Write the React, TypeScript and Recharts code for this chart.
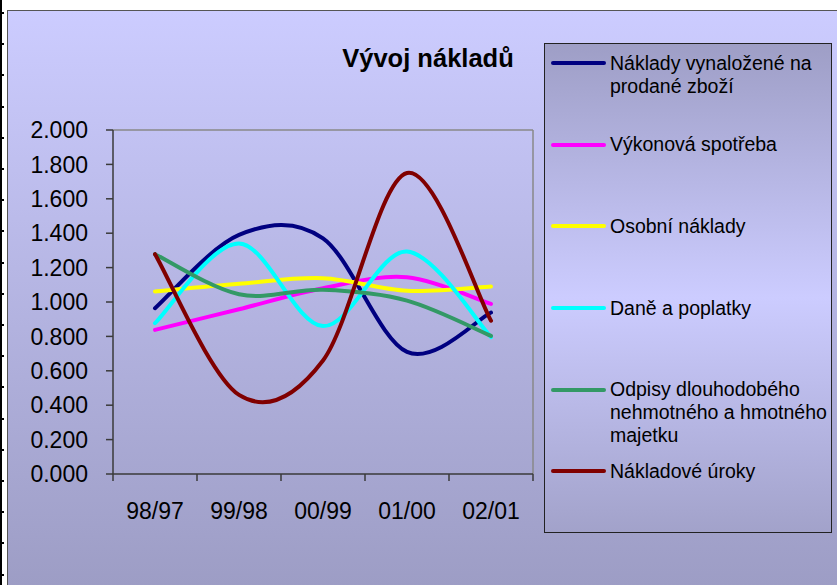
import React from 'react';
import { LineChart, Line, XAxis, YAxis, Legend, ReferenceLine } from 'recharts';

const categories = ['98/97', '99/98', '00/99', '01/00', '02/01'];
const nakladyZbozi = [0.964, 1.39, 1.37, 0.71, 0.939];
const vykonovaSpotreba = [0.838, 0.958, 1.08, 1.144, 0.989];
const osobniNaklady = [1.061, 1.106, 1.138, 1.065, 1.09];
const danePoplatky = [0.877, 1.34, 0.86, 1.293, 0.796];
const odpisy = [1.278, 1.045, 1.071, 1.008, 0.803];
const nakladoveUroky = [1.278, 0.46, 0.66, 1.75, 0.891];
const yTicks = [0, 0.2, 0.4, 0.6, 0.8, 1.0, 1.2, 1.4, 1.6, 1.8, 2.0];
const xBoundaries = [0, 1, 2, 3, 4, 5];

const seriesDefs = [
  { key: 'a', name: 'Náklady vynaložené na prodané zboží', values: nakladyZbozi, color: '#000080' },
  { key: 'b', name: 'Výkonová spotřeba', values: vykonovaSpotreba, color: '#FF00FF' },
  { key: 'c', name: 'Osobní náklady', values: osobniNaklady, color: '#FFFF00' },
  { key: 'd', name: 'Daně a poplatky', values: danePoplatky, color: '#00FFFF' },
  { key: 'e', name: 'Odpisy dlouhodobého nehmotného a hmotného majetku', values: odpisy, color: '#339966' },
  { key: 'f', name: 'Nákladové úroky', values: nakladoveUroky, color: '#800000' },
];

const data = categories.map((cat, i) => {
  const row: any = { cat, pos: i + 0.5 };
  seriesDefs.forEach((s) => {
    row[s.key] = s.values[i];
  });
  return row;
});

const FONT = '"Liberation Sans", Arial, sans-serif';

// Excel-like smoothed line (Catmull-Rom style Bezier)
const excelSmooth = (context: any) => {
  let pts: number[][] = [];
  return {
    areaStart() {},
    areaEnd() {},
    lineStart() {
      pts = [];
    },
    point(x: number, y: number) {
      pts.push([+x, +y]);
    },
    lineEnd() {
      const n = pts.length;
      if (!n) return;
      context.moveTo(pts[0][0], pts[0][1]);
      for (let i = 0; i < n - 1; i++) {
        const p0 = pts[i - 1] || pts[i];
        const p1 = pts[i];
        const p2 = pts[i + 1];
        const p3 = pts[i + 2] || p2;
        context.bezierCurveTo(
          p1[0] + (p2[0] - p0[0]) / 6,
          p1[1] + (p2[1] - p0[1]) / 6,
          p2[0] - (p3[0] - p1[0]) / 6,
          p2[1] - (p3[1] - p1[1]) / 6,
          p2[0],
          p2[1]
        );
      }
    },
  };
};

const CatTick = (props: any) => {
  const { x, y, payload, width, visibleTicksCount } = props;
  const idx = Math.round(payload.value);
  if (idx >= categories.length) return <g />;
  const half = width / (visibleTicksCount - 1) / 2;
  return (
    <text x={x + half} y={y} dy="0.71em" textAnchor="middle" fill="#000" fontSize={23} fontFamily={FONT}>
      {categories[idx]}
    </text>
  );
};

const renderLegend = (props: any) => {
  const payload = props.payload || [];
  const ordered = seriesDefs
    .map((s) => payload.find((p: any) => p.value === s.name || p.dataKey === s.key))
    .filter(Boolean);
  return (
    <div
      style={{
        width: 288,
        height: 490,
        boxSizing: 'border-box',
        border: '1px solid #222',
        background: 'linear-gradient(to bottom, #9e9ec6 0%, #ccccff 52%, #a2a2ca 100%)',
        paddingTop: 7.5,
        fontFamily: FONT,
        fontSize: 19.5,
        color: '#000',
      }}
    >
      {ordered.map((entry: any, i: number) => (
        <div key={i} style={{ height: 81.7, position: 'relative' }}>
          <div
            style={{
              position: 'absolute',
              left: 6,
              top: 9.5,
              width: 55,
              height: 4,
              borderRadius: 2,
              background: entry.color,
            }}
          />
          <div style={{ position: 'absolute', left: 65, top: 0, width: 222, lineHeight: '23px' }}>
            {entry.value}
          </div>
        </div>
      ))}
    </div>
  );
};

const leftTicks = Array.from({ length: 19 }, (_, i) => 12 + i * 31.2);

export default function App() {
  return (
    <div
      style={{
        position: 'absolute',
        left: 0,
        top: 0,
        width: 837,
        height: 585,
        overflow: 'hidden',
        background: '#fff',
      }}
    >
      <div style={{ position: 'absolute', left: 0, top: 0, width: 2, height: 585, background: '#000' }} />
      {leftTicks.map((t, i) => (
        <div key={i} style={{ position: 'absolute', left: 0, top: t, width: 4, height: 2, background: '#000' }} />
      ))}
      <div
        style={{
          position: 'absolute',
          left: 7,
          top: 10,
          width: 830,
          height: 575,
          boxSizing: 'border-box',
          borderTop: '1px solid #555',
          borderLeft: '1px solid #555',
          background: 'linear-gradient(to bottom, #ccccff 0%, #9d9dc5 100%)',
        }}
      />
      <div
        style={{
          position: 'absolute',
          left: 328,
          top: 45.5,
          width: 200,
          textAlign: 'center',
          fontFamily: FONT,
          fontWeight: 'bold',
          fontSize: 25.5,
          lineHeight: '25.5px',
          color: '#000',
          whiteSpace: 'nowrap',
        }}
      >
        Vývoj nákladů
      </div>
      <div style={{ position: 'absolute', left: 0, top: 0 }}>
        <LineChart width={837} height={585} data={data} margin={{ top: 130, right: 304, bottom: 61, left: 0 }}>
          <XAxis
            dataKey="pos"
            type="number"
            domain={[0, 5]}
            ticks={xBoundaries}
            interval={0}
            height={50}
            tickSize={7}
            tickMargin={22}
            axisLine={{ stroke: '#3a3a3a', strokeWidth: 1.5 }}
            tickLine={{ stroke: '#3a3a3a', strokeWidth: 1.5 }}
            tick={<CatTick />}
            allowDecimals={false}
          />
          <YAxis
            type="number"
            domain={[0, 2]}
            ticks={yTicks}
            interval={0}
            width={113}
            tickSize={7}
            tickMargin={18}
            tickFormatter={(v: number) => v.toFixed(3)}
            axisLine={{ stroke: '#3a3a3a', strokeWidth: 1.5 }}
            tickLine={{ stroke: '#3a3a3a', strokeWidth: 1.5 }}
            tick={{ fill: '#000', fontSize: 23, fontFamily: FONT }}
          />
          <ReferenceLine y={2} stroke="#888" strokeWidth={1.5} />
          <ReferenceLine x={5} stroke="#888" strokeWidth={1.5} />
          {seriesDefs.map((s) => (
            <Line
              key={s.key}
              dataKey={s.key}
              name={s.name}
              stroke={s.color}
              strokeWidth={4}
              strokeLinecap="round"
              type={excelSmooth as any}
              dot={false}
              activeDot={false}
              isAnimationActive={false}
            />
          ))}
          <Legend
            layout="horizontal"
            align="center"
            verticalAlign="middle"
            itemSorter={null as any}
            content={renderLegend}
            wrapperStyle={{ position: 'absolute', left: 544, top: 43, width: 288, height: 490 }}
          />
        </LineChart>
      </div>
    </div>
  );
}
